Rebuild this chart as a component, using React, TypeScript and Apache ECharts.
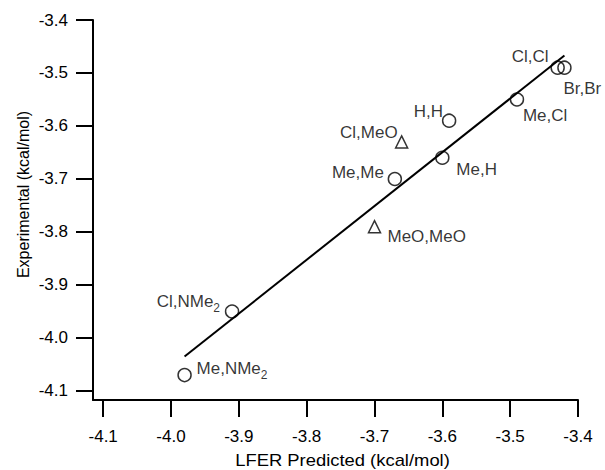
import React, { useEffect, useRef } from "react";
import * as echarts from "echarts";

const pointNames = ["Cl,Cl", "Br,Br", "Me,Cl", "H,H", "Me,H", "Me,Me", "Cl,NMe2", "Me,NMe2"];
const pointX = [-3.43, -3.42, -3.49, -3.59, -3.6, -3.67, -3.91, -3.98];
const pointY = [-3.49, -3.49, -3.55, -3.59, -3.66, -3.7, -3.95, -4.07];

const triNames = ["Cl,MeO", "MeO,MeO"];
const triX = [-3.66, -3.7];
const triY = [-3.63, -3.79];

const fitX = [-3.98, -3.42];
const fitY = [-4.035, -3.467];

const xTicks = [-4.1, -4.0, -3.9, -3.8, -3.7, -3.6, -3.5, -3.4];
const yTicks = [-3.4, -3.5, -3.6, -3.7, -3.8, -3.9, -4.0, -4.1];

// label placement: [align, dx, dy] relative to marker centre
const pointLabelPlace: [string, number, number][] = [
  ["right", -9, -11],
  ["left", -1, 21],
  ["left", 6, 16],
  ["right", -6, -9],
  ["left", 14, 12],
  ["right", -11, -6],
  ["right", -12, -10],
  ["left", 12, -7],
];
const triLabelPlace: [string, number, number][] = [
  ["right", -4, -9],
  ["left", 13, 10],
];

const FONT = "'Liberation Sans', Arial, Helvetica, sans-serif";

function fmtName(n: string) {
  return n.replace(/NMe2$/, "NMe{s|2}");
}

function makeData(xs: number[], ys: number[], names: string[], place: [string, number, number][]) {
  return xs.map((x, i) => ({
    value: [x, ys[i]],
    name: names[i],
    label: {
      show: true,
      position: "inside",
      align: place[i][0],
      verticalAlign: "middle",
      offset: [place[i][1], place[i][2]],
      formatter: () => fmtName(names[i]),
      color: "#000",
      fontSize: 17,
      fontFamily: FONT,
      rich: {
        s: { fontSize: 12, fontFamily: FONT, color: "#000", padding: [14, 0, 0, 0] },
      },
    },
  }));
}

export default function App() {
  const ref = useRef<HTMLDivElement>(null);
  useEffect(() => {
    document.body.style.margin = "0";
    const chart = echarts.init(ref.current!, null, { renderer: "svg" });
    const axisCommon = {
      type: "value",
      axisLine: { show: true, onZero: false, lineStyle: { color: "#000", width: 2 } },
      axisTick: { show: true, inside: false, length: 17, lineStyle: { color: "#000", width: 2 } },
      splitLine: { show: false },
    };
    chart.setOption({
      animation: false,
      backgroundColor: "#fff",
      grid: { left: 93, right: 27, top: 20, bottom: 70 },
      xAxis: {
        ...axisCommon,
        min: -4.115,
        max: -3.4,
        axisTick: { ...axisCommon.axisTick, customValues: xTicks },
        axisLabel: {
          customValues: xTicks,
          margin: 28,
          fontSize: 17,
          fontFamily: FONT,
          color: "#000",
          formatter: (v: number) => v.toFixed(1),
        },
      },
      yAxis: {
        ...axisCommon,
        min: -4.117,
        max: -3.4,
        axisTick: { ...axisCommon.axisTick, customValues: yTicks },
        axisLabel: {
          customValues: yTicks,
          margin: 25,
          fontSize: 17,
          fontFamily: FONT,
          color: "#000",
          formatter: (v: number) => v.toFixed(1),
        },
      },
      graphic: [
        {
          type: "text",
          x: 23,
          y: 194.5,
          rotation: Math.PI / 2,
          style: {
            text: "Experimental (kcal/mol)",
            fontSize: 16,
            fontFamily: FONT,
            fill: "#000",
            align: "center",
            verticalAlign: "middle",
          },
        },
        {
          type: "text",
          x: 342.5,
          y: 460,
          scaleX: 1.15,
          style: {
            text: "LFER Predicted (kcal/mol)",
            fontSize: 16,
            fontFamily: FONT,
            fill: "#000",
            align: "center",
            verticalAlign: "middle",
          },
        },
      ],
      series: [
        {
          type: "line",
          data: fitX.map((x, i) => [x, fitY[i]]),
          showSymbol: false,
          symbol: "none",
          lineStyle: { color: "#000", width: 2 },
          silent: true,
          z: 1,
        },
        {
          type: "scatter",
          symbol: "circle",
          symbolSize: 13,
          itemStyle: { color: "rgba(0,0,0,0)", borderColor: "#000", borderWidth: 1.5 },
          data: makeData(pointX, pointY, pointNames, pointLabelPlace),
          z: 2,
        },
        {
          type: "scatter",
          symbol: "triangle",
          symbolSize: 12,
          itemStyle: { color: "rgba(0,0,0,0)", borderColor: "#000", borderWidth: 1.5 },
          data: makeData(triX, triY, triNames, triLabelPlace),
          z: 2,
        },
      ],
    });
    return () => chart.dispose();
  }, []);
  return <div ref={ref} style={{ width: 605, height: 470 }} />;
}
